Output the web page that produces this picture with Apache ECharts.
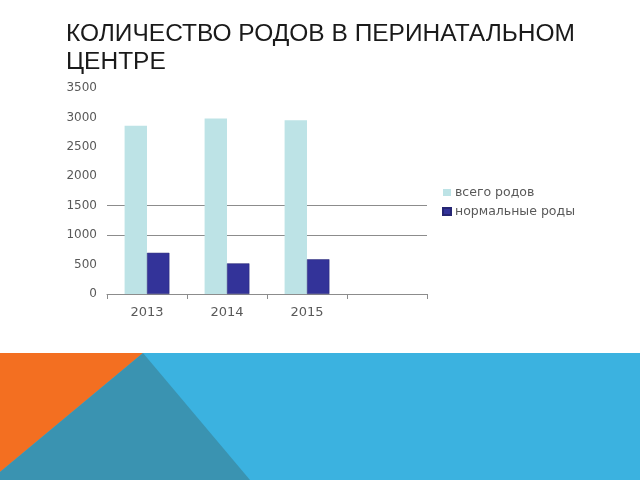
<!DOCTYPE html>
<html><head><meta charset="utf-8">
<script src="https://cdn.jsdelivr.net/npm/echarts@6/dist/echarts.min.js"></script>
<style>html,body{margin:0;padding:0;background:#fff}#c{width:640px;height:480px}</style>
</head><body><div id="c"></div>
<script>
var categories = ['2013', '2014', '2015', ''];
var seriesNames = ['всего родов', 'нормальные роды'];
var totalBirths = [2860, 2980, 2950, null];
var normalBirths = [700, 520, 590, null];
var yTicks = [0, 500, 1000, 1500, 2000, 2500, 3000, 3500];
var titleText = 'КОЛИЧЕСТВО РОДОВ В ПЕРИНАТАЛЬНОМ\nЦЕНТРЕ';

var gridColors = yTicks.map(function (v) { return (v === 1000 || v === 1500) ? '#8c8c8c' : 'rgba(0,0,0,0)'; });
var font = 'Liberation Sans, Arial, sans-serif';
var labelFont = 'DejaVu Sans, sans-serif';
var chart = echarts.init(document.getElementById('c'));
chart.setOption({
  animation: false,
  backgroundColor: '#ffffff',
  title: {
    text: titleText, left: 61, top: 15,
    textStyle: { fontFamily: font, fontSize: 24.5, fontWeight: 'normal', color: '#1a1a1a', lineHeight: 28 }
  },
  legend: {
    orient: 'vertical', left: 437, top: 180,
    itemWidth: 8, itemHeight: 7, itemGap: 4,
    icon: 'rect',
    textStyle: { fontFamily: labelFont, fontSize: 12.5, color: '#595959', lineHeight: 15, padding: [0, 0, 0, -1] },
    data: seriesNames
  },
  grid: { left: 107, right: 213, top: 88, bottom: 186, containLabel: false },
  xAxis: {
    type: 'category', data: categories,
    axisLine: { lineStyle: { color: '#8c8c8c' } },
    axisTick: { show: true, length: 5, lineStyle: { color: '#8c8c8c' } },
    axisLabel: { fontFamily: labelFont, fontSize: 13, color: '#595959', margin: 12 }
  },
  yAxis: {
    type: 'value', min: 0, max: 3500, interval: 500,
    axisLine: { show: false }, axisTick: { show: false },
    axisLabel: { fontFamily: labelFont, fontSize: 12, color: '#595959', margin: 10,
      formatter: function (v) { return String(v); } },
    splitLine: { show: true, lineStyle: { color: gridColors, width: 1 } }
  },
  series: [
    { name: seriesNames[0], type: 'bar', data: totalBirths, barGap: '0%', barCategoryGap: '44%',
      itemStyle: { color: '#bde3e6' } },
    { name: seriesNames[1], type: 'bar', data: normalBirths,
      itemStyle: { color: '#333399', borderColor: '#262673', borderWidth: 0.5 } }
  ],
  graphic: [
    { type: 'rect', shape: { x: 0, y: 353, width: 640, height: 127 }, style: { fill: '#3bb2e0' }, z: -1 },
    { type: 'polygon', shape: { points: [[0, 353], [143, 353], [0, 472]] }, style: { fill: '#f36f21' }, z: -1 },
    { type: 'polygon', shape: { points: [[143, 353], [250, 480], [0, 480], [0, 472]] }, style: { fill: '#3a93b1' }, z: -1 }
  ]
});
</script></body></html>
